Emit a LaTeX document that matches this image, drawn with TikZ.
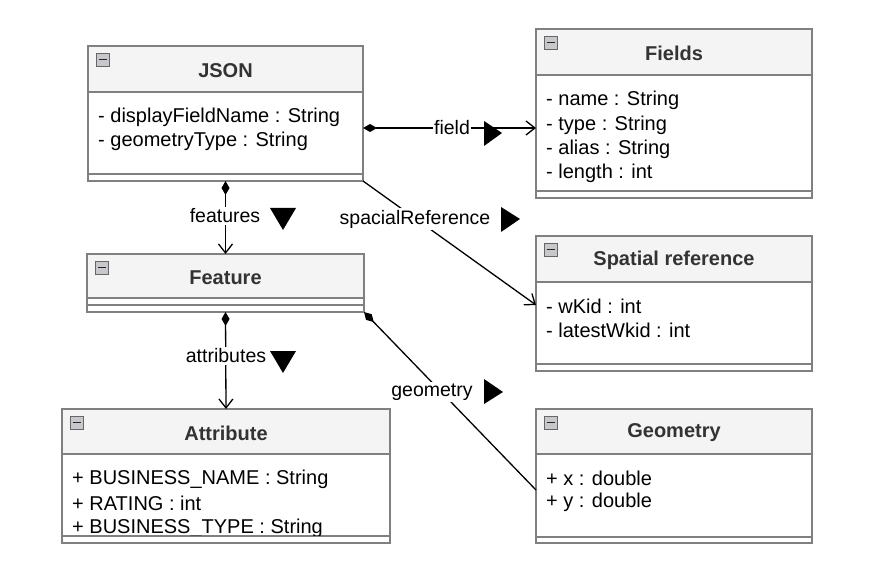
\documentclass[tikz,border=0pt]{standalone}
\usepackage{fontspec}
\setmainfont{Liberation Sans}
\usetikzlibrary{arrows.meta}
\definecolor{boxgray}{HTML}{808080}
\definecolor{headgray}{HTML}{F4F4F4}
\definecolor{titlegray}{HTML}{333333}
\definecolor{icongray}{HTML}{C8C8CC}
\tikzset{
  umlbox/.style={draw=boxgray, line width=1.5pt, anchor=north west, inner sep=0pt, outer sep=0pt},
  boxline/.style={draw=boxgray, line width=1.5pt},
  umltitle/.style={font=\bfseries\fontsize{20}{22}\selectfont, text=titlegray, inner sep=0pt},
  attr/.style={font=\fontsize{20}{24}\selectfont, anchor=west, inner sep=0pt},
  lbl/.style={fill=white, inner sep=1.5pt, font=\fontsize{19.5}{22}\selectfont},
  dirtri/.style={fill=black, draw=none},
  conn/.style={draw=black, line width=1.3pt},
  comp/.style={conn, {Diamond[length=14pt,width=8pt]}-{Straight Barb[length=9pt,width=14pt]}},
  iconbox/.style={fill=icongray, draw=gray!80!black, line width=0.8pt},
}
% name, x1, y1, x2, y2, header bottom, attr bottom, title
\newcommand\umlclass[8]{%
  \fill[white] (#2,#3) rectangle (#4,#5);
  \fill[headgray] (#2,#3) rectangle (#4,#6);
  \draw[boxline] (#2,#6) -- (#4,#6) (#2,#7) -- (#4,#7);
  \node[umlbox, minimum width=#4-#2, minimum height=#5-#3] (#1) at (#2,#3) {};
  \node[umltitle] (#1-title) at ({(#2+#4)/2},{(#3+#6)/2+1.5}) {#8};
  \filldraw[iconbox] (#2+8,#3+7) rectangle +(13,13);
  \draw[line width=1.6pt, black!85] (#2+10.5,#3+13.5) -- (#2+18.5,#3+13.5);
}
\begin{document}
\begin{tikzpicture}[x=1pt,y=-1pt]
\useasboundingbox[fill=white] (0,0) rectangle (888,577);

% classes
\umlclass{json}{88}{46}{363}{181}{92}{174}{JSON}
\node[attr] (json-a1) at (98,117.5) {- displayFieldName : String};
\node[attr] (json-a2) at (98,141.5) {- geometryType : String};

\umlclass{fields}{536}{29}{812}{198}{75}{191}{Fields}
\node[attr] (fields-a1) at (546,100.5) {- name : String};
\node[attr] (fields-a2) at (546,125) {- type : String};
\node[attr] (fields-a3) at (546,149) {- alias : String};
\node[attr] (fields-a4) at (546,173) {- length : int};

\umlclass{spatial}{536}{236}{812}{371}{282}{364}{Spatial reference}
\node[attr] (spatial-a1) at (546,306.5) {- wKid : int};
\node[attr] (spatial-a2) at (546,330.5) {- latestWkid : int};

\umlclass{feature}{87}{254}{364}{312}{298}{305}{Feature}

\umlclass{attribute}{62}{409}{390}{543}{454}{536}{Attribute}
\node[attr] (attribute-a1) at (72,479) {+ BUSINESS\_NAME : String};
\node[attr] (attribute-a2) at (72,503) {+ RATING : int};
\begin{scope}
  \clip (62,455) rectangle (390,535.5);
  \node[attr] (attribute-a3) at (72,528) {+ BUSINESS\_TYPE : String};
\end{scope}

\umlclass{geometry}{536}{409}{812}{543}{454}{537}{Geometry}
\node[attr] (geometry-a1) at (546,478.5) {+ x : double};
\node[attr] (geometry-a2) at (546,502.5) {+ y : double};

% connectors
\draw[comp] ([yshift=-82pt]json.north east) -- ([yshift=-99pt]fields.north west);
\draw[comp] (json.south) -- (feature.north);
\draw[conn, -{Straight Barb[length=9pt,width=14pt]}] (json.south east) -- ([yshift=-69pt]spatial.north west);
\draw[comp] (feature.south) -- (attribute.north);
\draw[conn, {Diamond[length=14pt,width=8pt]}-] (feature.south east) -- ([yshift=-81pt]geometry.north west);

% labels
\node[lbl] (l-field) at (452,128) {field};
\fill[dirtri] (484,121) -- (502,133) -- (484,146) -- cycle;
\node[lbl] (l-features) at (225,216) {features};
\fill[dirtri] (270,208) -- (296,208) -- (283,230) -- cycle;
\node[lbl] (l-spacial) at (415,219) {spacialReference};
\fill[dirtri] (501,207) -- (520,219) -- (501,232) -- cycle;
\node[lbl] (l-attributes) at (226,356) {attributes};
\fill[dirtri] (270,351) -- (296,351) -- (283,373) -- cycle;
\node[lbl] (l-geometry) at (432,392) {geometry};
\fill[dirtri] (484,379) -- (503,392) -- (484,404) -- cycle;
\end{tikzpicture}
\end{document}
